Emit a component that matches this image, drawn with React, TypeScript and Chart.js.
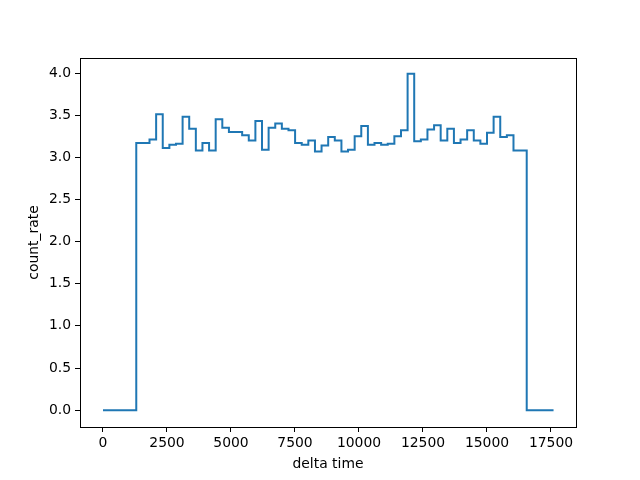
import React, { useEffect, useRef } from "react";
import { Chart, registerables } from "chart.js";

Chart.register(...registerables);

const binEdges: number[] = [
  1300, 1559, 1817, 2076, 2334, 2593, 2851, 3110, 3368, 3627, 3885, 4144, 4402, 4661, 4919,
  5178, 5436, 5695, 5953, 6212, 6470, 6729, 6987, 7246, 7504, 7763, 8021, 8280, 8538, 8797,
  9055, 9314, 9572, 9831, 10089, 10348, 10606, 10865, 11123, 11382, 11640, 11899, 12157, 12416,
  12674, 12933, 13191, 13450, 13708, 13967, 14225, 14484, 14742, 15001, 15259, 15518, 15776,
  16035, 16293, 16552,
];

const countRate: number[] = [
  3.17, 3.17, 3.21, 3.51, 3.11, 3.15, 3.16, 3.48, 3.34, 3.08, 3.17, 3.08, 3.45, 3.35, 3.3,
  3.3, 3.26, 3.2, 3.43, 3.09, 3.35, 3.4, 3.34, 3.32, 3.17, 3.15, 3.2, 3.07, 3.14, 3.24,
  3.2, 3.07, 3.09, 3.25, 3.37, 3.15, 3.17, 3.15, 3.16, 3.25, 3.32, 3.99, 3.19, 3.21,
  3.33, 3.38, 3.2, 3.34, 3.17, 3.21, 3.32, 3.2, 3.16, 3.29, 3.48, 3.24, 3.26, 3.08, 3.08,
];

const startTime = 0;
const endTime = 17600;

const xTicks: number[] = [0, 2500, 5000, 7500, 10000, 12500, 15000, 17500];
const yTicks: number[] = [0, 0.5, 1, 1.5, 2, 2.5, 3, 3.5, 4];

const FONT = "'DejaVu Sans', sans-serif";

const frame = {
  id: "frame",
  afterDraw(chart: any) {
    const { ctx, chartArea } = chart;
    ctx.save();
    ctx.strokeStyle = "#000";
    ctx.lineWidth = 1;
    ctx.strokeRect(
      Math.round(chartArea.left) + 0.5,
      Math.round(chartArea.top) + 0.5,
      Math.round(chartArea.right - chartArea.left),
      Math.round(chartArea.bottom - chartArea.top)
    );
    ctx.restore();
  },
};

export default function App() {
  const ref = useRef<HTMLCanvasElement | null>(null);

  useEffect(() => {
    document.body.style.margin = "0";
    // each point holds the value of the bin that starts at it
    const pts: { x: number; y: number }[] = [{ x: startTime, y: 0 }];
    countRate.forEach((v, i) => pts.push({ x: binEdges[i], y: v }));
    pts.push({ x: binEdges[binEdges.length - 1], y: 0 });
    pts.push({ x: endTime, y: 0 });

    const chart = new Chart(ref.current!, {
      type: "line",
      data: {
        datasets: [
          {
            data: pts,
            stepped: "before",
            borderColor: "#1f77b4",
            borderWidth: 2,
            pointRadius: 0,
            fill: false,
          },
        ],
      },
      plugins: [frame],
      options: {
        animation: false,
        responsive: false,
        layout: { padding: { left: 22, top: 58, right: 64, bottom: 7 } },
        plugins: { legend: { display: false }, tooltip: { enabled: false } },
        scales: {
          x: {
            type: "linear",
            min: -898,
            max: 18477,
            afterBuildTicks: (s: any) => {
              s.ticks = xTicks.map((v) => ({ value: v }));
            },
            afterFit: (s: any) => {
              s.height = 46;
            },
            grid: { drawOnChartArea: false, tickLength: 5, tickColor: "#000", color: "#000" },
            border: { display: true, color: "#000" },
            ticks: {
              color: "#000",
              font: { family: FONT, size: 13.9 },
              padding: 3,
              maxRotation: 0,
              callback: (v: any) => String(v),
            },
            title: {
              display: true,
              text: "delta time",
              color: "#000",
              font: { family: FONT, size: 13.9 },
              padding: { top: 2, bottom: 0 },
            },
          },
          y: {
            type: "linear",
            min: -0.2,
            max: 4.178,
            afterBuildTicks: (s: any) => {
              s.ticks = yTicks.map((v) => ({ value: v }));
            },
            afterFit: (s: any) => {
              s.width = 58;
            },
            grid: { drawOnChartArea: false, tickLength: 5, tickColor: "#000", color: "#000" },
            border: { display: true, color: "#000" },
            ticks: {
              color: "#000",
              font: { family: FONT, size: 13.9 },
              padding: 4,
              callback: (v: any) => Number(v).toFixed(1),
            },
            title: {
              display: true,
              text: "count_rate",
              color: "#000",
              font: { family: FONT, size: 13.9 },
              padding: { top: 4, bottom: 0 },
            },
          },
        },
      },
    });
    return () => chart.destroy();
  }, []);

  return (
    <div style={{ width: 640, height: 480, background: "#fff" }}>
      <canvas ref={ref} width={640} height={480} style={{ display: "block" }} />
    </div>
  );
}
